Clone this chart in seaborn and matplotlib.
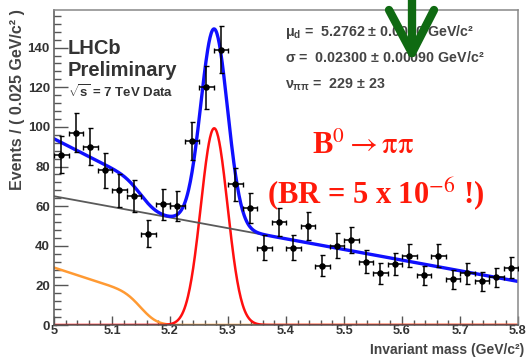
import numpy as np
import pandas as pd
import matplotlib
matplotlib.use("Agg")
import matplotlib.pyplot as plt
from matplotlib.lines import Line2D
from matplotlib.ticker import MultipleLocator
import seaborn as sns
from math import erf

# Binned invariant-mass data (bin width 0.025 GeV/c^2)
bin_width = 0.025
bin_centers = np.round(np.arange(5.0125, 5.8, bin_width), 4)
counts = [86, 97, 90, 78, 68, 65, 46, 61, 60, 93,
          120, 139, 71, 59, 39, 52, 39, 50, 30, 40,
          43, 32, 26, 31, 35, 25, 35, 23, 26, 22,
          24, 29]

# Fit results
sig_mean = 5.2762
sig_sigma = 0.02300
sig_yield = 229
bkg_start, bkg_end = 65.0, 22.0          # linear combinatorial background at 5.0 and 5.8
prc_norm, prc_slope = 29.0, 95.0         # partially reconstructed component
prc_edge, prc_smear = 5.155, 0.022

x_lo, x_hi, y_hi = 5.0, 5.8, 159.0

sns.set_theme(style="ticks")
plt.rcParams["font.family"] = ["Liberation Sans", "DejaVu Sans"]
plt.rcParams["mathtext.fontset"] = "custom"
plt.rcParams["mathtext.rm"] = "Liberation Sans:bold"
plt.rcParams["mathtext.it"] = "Liberation Sans:bold"
plt.rcParams["mathtext.bf"] = "Liberation Sans:bold"
plt.rcParams["mathtext.sf"] = "Liberation Sans:bold"

W, H = 528, 357
fig = plt.figure(figsize=(W / 100, H / 100), dpi=100)
fig.patch.set_facecolor("white")
ax = fig.add_axes([54 / W, 1 - 325 / H, (518 - 54) / W, (325 - 10) / H])

# Model curves
m = np.linspace(x_lo, x_hi, 801)
gauss = sig_yield * bin_width / (sig_sigma * np.sqrt(2 * np.pi)) * np.exp(-0.5 * ((m - sig_mean) / sig_sigma) ** 2)
linear = bkg_start + (bkg_end - bkg_start) * (m - x_lo) / (x_hi - x_lo)
cdf = np.array([0.5 * (1 + erf((prc_edge - v) / (np.sqrt(2) * prc_smear))) for v in m])
prc = np.clip(prc_norm - prc_slope * (m - x_lo), 0, None) * cdf
total = gauss + linear + prc

curves = pd.DataFrame({"mass": m, "prc": prc, "sig": gauss, "bkg": linear, "total": total})
sns.lineplot(data=curves, x="mass", y="prc", ax=ax, color="#ff9a33", lw=1.8)
sns.lineplot(data=curves, x="mass", y="sig", ax=ax, color="#ff0f0f", lw=1.8)
sns.lineplot(data=curves, x="mass", y="bkg", ax=ax, color="#5a5a5a", lw=1.3)
sns.lineplot(data=curves, x="mass", y="total", ax=ax, color="#1010ff", lw=2.4)

# Data points with Poisson errors
data = pd.DataFrame({"mass": bin_centers, "events": counts})
ax.errorbar(data["mass"], data["events"], yerr=np.sqrt(data["events"]), xerr=bin_width / 2,
            fmt="none", ecolor="black", elinewidth=1.1, capsize=1.8, capthick=1.0, zorder=5)
sns.scatterplot(data=data, x="mass", y="events", ax=ax, color="black", s=22,
                edgecolor="black", linewidth=0, zorder=6)

ax.set_xlim(x_lo, x_hi)
ax.set_ylim(0, y_hi)
ax.xaxis.set_major_locator(MultipleLocator(0.1))
ax.xaxis.set_minor_locator(MultipleLocator(0.02))
ax.yaxis.set_major_locator(MultipleLocator(20))
ax.yaxis.set_minor_locator(MultipleLocator(4))
ax.set_xticks(np.round(np.arange(5.0, 5.81, 0.1), 1))
ax.set_xticklabels(["5", "5.1", "5.2", "5.3", "5.4", "5.5", "5.6", "5.7", "5.8"])
ax.tick_params(axis="both", which="both", direction="in", colors="#555555", labelcolor="#333333")
ax.tick_params(axis="y", which="major", length=10, width=1.0, pad=3, labelsize=9.5)
ax.tick_params(axis="y", which="minor", length=5, width=1.0)
ax.tick_params(axis="x", which="major", length=6.8, width=1.0, pad=0.3, labelsize=9.2)
ax.tick_params(axis="x", which="minor", length=3.4, width=1.0)
for lab in ax.get_xticklabels() + ax.get_yticklabels():
    lab.set_fontweight("bold")
for side, col in [("left", "#555555"), ("bottom", "#555555"), ("top", "#888888"), ("right", "#888888")]:
    ax.spines[side].set_visible(True)
    ax.spines[side].set_color(col)
    ax.spines[side].set_linewidth(1.1)

ax.set_xlabel("")
ax.set_ylabel("")
fig.text(524 / W, 1 - 356.8 / H, "Invariant mass (GeV/c²)", ha="right", va="bottom",
         fontsize=10, fontweight="bold", color="#444444")
fig.text(18 / W, 1 - 9 / H, "Events / ( 0.025 GeV/c² )", ha="center", va="top",
         rotation=90, fontsize=11.5, fontweight="bold", color="#444444")


def px(x, y):
    return x / W, 1 - y / H


# Experiment labels
fig.text(*px(68, 48.5), "LHCb", ha="left", va="center", fontsize=14.5, fontweight="bold", color="#333333")
fig.text(*px(68, 71), "Preliminary", ha="left", va="center", fontsize=14.5, fontweight="bold", color="#333333")
fig.text(*px(68, 92), r"$\sqrt{\mathrm{s}}$ = 7 TeV Data", ha="left", va="center", fontsize=9.5,
         fontweight="bold", color="#333333")

# Fit parameters
fig.text(*px(285, 32), r"$\mu_{d}$ =  5.2762 ± 0.0010 GeV/c²", ha="left", va="center",
         fontsize=10.3, fontweight="bold", color="#444444")
fig.text(*px(285, 58), r"$\sigma$ =  0.02300 ± 0.00090 GeV/c²", ha="left", va="center",
         fontsize=10.3, fontweight="bold", color="#444444")
fig.text(*px(285, 85), r"$\nu_{\pi\pi}$ =  229 ± 23", ha="left", va="center",
         fontsize=10.3, fontweight="bold", color="#444444")

# Decay channel annotation
red = "#ff1a0a"
fig.text(*px(312, 146), r"B$^0$$\rightarrow$$\mathrm{\pi\pi}$", ha="left", va="center", fontsize=22,
         fontweight="bold", color=red, family=["Liberation Serif", "DejaVu Serif"], math_fontfamily="stix")
fig.text(*px(267, 194), r"(BR = 5 x 10$^{-6}$ !)", ha="left", va="center", fontsize=22,
         fontweight="bold", color=red, family=["Liberation Serif", "DejaVu Serif"], math_fontfamily="stix")

# Green marker arrow
green = "#0f6a12"
tip = px(412, 53)
for start in [px(412, -5), px(389, 10), px(434, 10)]:
    fig.add_artist(Line2D([start[0], tip[0]], [start[1], tip[1]], transform=fig.transFigure,
                          color=green, lw=6, solid_capstyle="round", zorder=10))

fig.savefig("out.png", dpi=100)
